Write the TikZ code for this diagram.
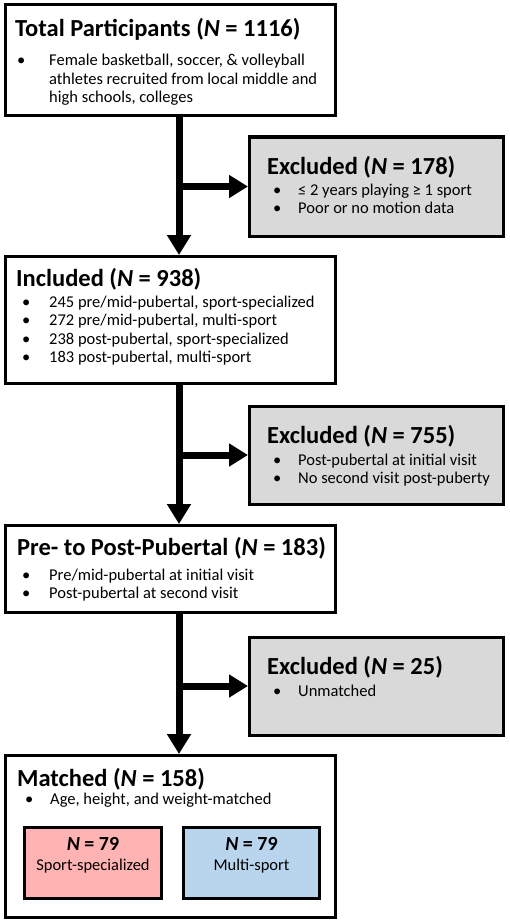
\documentclass[tikz,border=0pt]{standalone}
\usepackage{fontspec}
\setmainfont{Carlito}
\usetikzlibrary{arrows.meta}
\definecolor{excgray}{HTML}{D9D9D9}
\definecolor{sportred}{HTML}{FFB3B3}
\definecolor{multiblue}{HTML}{B9D5EE}
\newcommand{\boxtitle}[1]{{\fontsize{24.5}{30}\selectfont\bfseries #1}}
\newcommand{\Nv}{\textit{N}}
\newcommand{\bitem}[2][30.5pt]{\noindent\hangindent=#1\hangafter=1\makebox[#1][l]{\textbullet}#2\par}
\newcommand{\blist}[1]{\parbox[t]{300pt}{\fontsize{16.5}{18.3}\selectfont #1}}
\tikzset{
  mainbox/.style={draw=black,line width=3pt,fill=white,minimum width=330pt,inner sep=0pt},
  excbox/.style={draw=black,line width=3pt,fill=excgray,minimum width=254pt,inner sep=0pt},
  groupbox/.style={draw=black,line width=3pt,minimum height=71pt,inner sep=0pt},
  txt/.style={anchor=base west,inner sep=0pt},
  flow/.style={line width=7pt,-{Triangle[width=23pt,length=20pt]}},
  branch/.style={line width=7pt,-{Triangle[width=22pt,length=19pt]}}
}
\begin{document}
\begin{tikzpicture}[x=1pt,y=-1pt]
  \useasboundingbox (0,0) rectangle (510,923);
  \coordinate (spine) at (179,0);
  % boxes
  \node[mainbox,minimum height=111pt] (total) at (170.5,60) {};
  \node[excbox,minimum height=99pt] (exc1) at (376.5,186.5) {};
  \node[mainbox,minimum height=127pt] (inc) at (170.5,320) {};
  \node[excbox,minimum height=98pt] (exc2) at (376.5,455) {};
  \node[mainbox,minimum height=87pt] (pre) at (170.5,569) {};
  \node[excbox,minimum height=98pt] (exc3) at (376.5,686) {};
  \node[mainbox,minimum height=162pt] (matched) at (170.5,836.5) {};
  \node[groupbox,fill=sportred,minimum width=137pt] (spec) at (93,863) {};
  \node[groupbox,fill=multiblue,minimum width=136pt] (multi) at (251.5,863) {};
  % texts
  \node[txt] (totalhead) at (15,37) {\boxtitle{Total Participants (\Nv{} = 1116)}};
  \node[txt] (totallist) at (17,66) {\blist{\bitem[32pt]{Female basketball, soccer, \& volleyball\\athletes recruited from local middle and\\high schools, colleges}}};
  \node[txt] (exc1head) at (267,174) {\boxtitle{Excluded (\Nv{} = 178)}};
  \node[txt] (exc1list) at (273,195.5) {\blist{\bitem[25pt]{≤ 2 years playing ≥ 1 sport}\bitem[25pt]{Poor or no motion data}}};
  \node[txt] (inchead) at (16,286) {\boxtitle{Included (\Nv{} = 938)}};
  \node[txt] (inclist) at (22,307.5) {\blist{\bitem[27pt]{245 pre/mid-pubertal, sport-specialized}\bitem[27pt]{272 pre/mid-pubertal, multi-sport}\bitem[27pt]{238 post-pubertal, sport-specialized}\bitem[27pt]{183 post-pubertal, multi-sport}}};
  \node[txt] (exc2head) at (267,443) {\boxtitle{Excluded (\Nv{} = 755)}};
  \node[txt] (exc2list) at (273,465.5) {\blist{\bitem[25pt]{Post-pubertal at initial visit}\bitem[25pt]{No second visit post-puberty}}};
  \node[txt] (prehead) at (17,555) {\boxtitle{Pre- to Post-Pubertal (\Nv{} = 183)}};
  \node[txt] (prelist) at (22,580.5) {\blist{\bitem[27pt]{Pre/mid-pubertal at initial visit}\bitem[27pt]{Post-pubertal at second visit}}};
  \node[txt] (exc3head) at (267,674) {\boxtitle{Excluded (\Nv{} = 25)}};
  \node[txt] (exc3list) at (273,696.5) {\blist{\bitem[25pt]{Unmatched}}};
  \node[txt] (matchedhead) at (17,786) {\boxtitle{Matched (\Nv{} = 158)}};
  \node[txt] (matchedlist) at (25,804.5) {\blist{\bitem[25pt]{Age, height, and weight-matched}}};
  \node[anchor=base,inner sep=0pt] (specn) at (spec |- 0,850) {\fontsize{20}{24}\selectfont\bfseries\Nv{} = 79};
  \node[anchor=base,inner sep=0pt] (specl) at (spec |- 0,870) {\fontsize{16.5}{19}\selectfont Sport-specialized};
  \node[anchor=base,inner sep=0pt] (multin) at (multi |- 0,850) {\fontsize{20}{24}\selectfont\bfseries\Nv{} = 79};
  \node[anchor=base,inner sep=0pt] (multil) at (multi |- 0,870) {\fontsize{16.5}{19}\selectfont Multi-sport};
  % arrows
  \draw[flow] (total.south -| spine) -- (inc.north -| spine);
  \draw[branch] (spine |- exc1.west) -- (exc1.west);
  \draw[flow] (inc.south -| spine) -- (pre.north -| spine);
  \draw[branch] (spine |- exc2.west) -- (exc2.west);
  \draw[flow] (pre.south -| spine) -- (matched.north -| spine);
  \draw[branch] (spine |- exc3.west) -- (exc3.west);
\end{tikzpicture}
\end{document}
